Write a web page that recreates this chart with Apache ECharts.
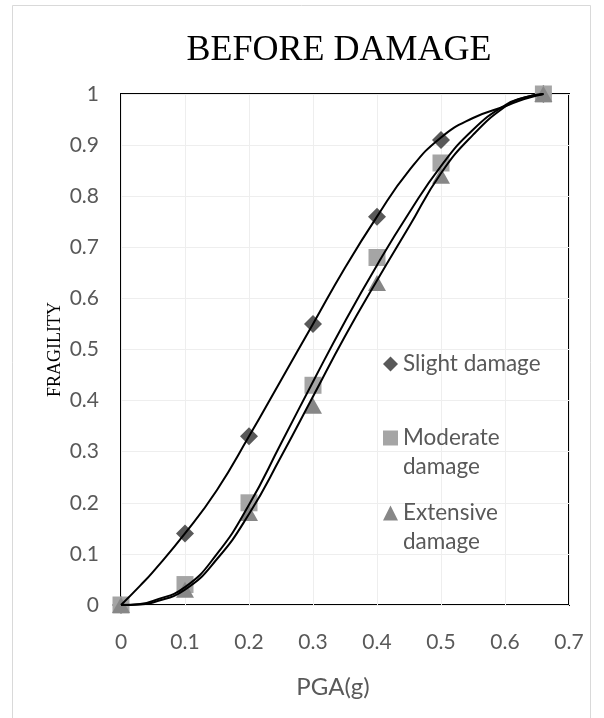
<!DOCTYPE html>
<html>
<head>
    <meta charset="UTF-8">
    <title>BEFORE DAMAGE</title>
    <script src="https://cdn.jsdelivr.net/npm/echarts@6/dist/echarts.min.js"></script>
    <style>
        body, html {
            margin: 0;
            padding: 0;
            background: #fff;
        }

        #chart {
            width: 604px;
            height: 718px;
        }
    </style>
</head>
<body>
<div id="chart"></div>
<script>
    // measured points
    var pga = [0, 0.1, 0.2, 0.3, 0.4, 0.5, 0.66];
    var slight = [0, 0.14, 0.33, 0.55, 0.76, 0.91, 1];
    var moderate = [0, 0.04, 0.2, 0.43, 0.68, 0.865, 1];
    var extensive = [0, 0.03, 0.18, 0.39, 0.63, 0.84, 1];

    // fitted curves
    var fitX = [0, 0.03, 0.05, 0.1, 0.15, 0.2, 0.25, 0.3, 0.35, 0.4, 0.45, 0.5, 0.55, 0.6, 0.63, 0.66];
    var fitSlight = [0, 0.038, 0.065, 0.14, 0.225, 0.33, 0.44, 0.55, 0.66, 0.76, 0.85, 0.915, 0.953, 0.976, 0.99, 1];
    var fitModerate = [0, 0.002, 0.008, 0.035, 0.1, 0.196, 0.316, 0.437, 0.555, 0.665, 0.767, 0.859, 0.93, 0.978, 0.993, 1];
    var fitExtensive = [0, 0.001, 0.005, 0.03, 0.09, 0.178, 0.29, 0.408, 0.526, 0.635, 0.74, 0.845, 0.92, 0.975, 0.993, 1];

    var names = ['Slight damage', 'Moderate\ndamage', 'Extensive\ndamage'];

    function pairs(xs, ys) {
        return xs.map(function (x, i) {
            return [x, ys[i]];
        });
    }

    // icon sits on the first line, so pad the text block on top by one line
    function legendAt(name, top, lines) {
        return {
            data: [name],
            left: 383,
            top: top,
            padding: 0,
            itemWidth: 15,
            itemHeight: 15,
            selectedMode: false,
            formatter: function (n) {
                return n.split('\n').map(function (s) {
                    return '{t|' + s + '}';
                }).join('\n');
            },
            textStyle: {
                padding: [29 * (lines - 1), 0, 0, 0],
                rich: {
                    t: {
                        color: '#595959',
                        fontFamily: 'Lato',
                        fontSize: 22.5,
                        lineHeight: 29
                    }
                }
            }
        };
    }

    function curve(ys) {
        return {
            type: 'line',
            data: pairs(fitX, ys),
            smooth: true,
            symbol: 'none',
            silent: true,
            lineStyle: {color: '#000', width: 2},
            z: 5
        };
    }

    var chart = echarts.init(document.getElementById('chart'), null, {renderer: 'canvas'});

    chart.setOption({
        backgroundColor: '#fff',
        animation: false,
        title: {
            text: 'BEFORE DAMAGE',
            left: 334,
            top: 28,
            textAlign: 'center',
            textStyle: {
                fontFamily: 'Liberation Serif',
                fontWeight: 'normal',
                fontSize: 36,
                color: '#000'
            }
        },
        graphic: [{
            type: 'rect',
            shape: {x: 12.5, y: 5.5, width: 578, height: 740},
            style: {fill: 'none', stroke: '#d9d9d9', lineWidth: 1},
            silent: true
        }],
        legend: [
            legendAt(names[0], 352.5, 1),
            legendAt(names[1], 426.5, 2),
            legendAt(names[2], 501.5, 2)
        ],
        grid: {
            left: 121,
            right: 35,
            top: 94,
            bottom: 113,
            show: true,
            borderColor: '#000',
            borderWidth: 2
        },
        xAxis: {
            type: 'value',
            min: 0,
            max: 0.7,
            interval: 0.1,
            name: 'PGA(g)',
            nameLocation: 'middle',
            nameGap: 70,
            nameMoveOverlap: false,
            nameTextStyle: {
                fontFamily: 'Lato',
                fontSize: 24,
                color: '#595959',
                padding: [0, 24, 0, 0]
            },
            axisLine: {show: false},
            axisTick: {show: false},
            axisLabel: {
                margin: 27,
                fontFamily: 'Lato',
                fontSize: 21,
                color: '#595959'
            },
            splitLine: {lineStyle: {color: '#eeeeee', width: 1}}
        },
        yAxis: {
            type: 'value',
            min: 0,
            max: 1,
            interval: 0.1,
            name: 'FRAGILITY',
            nameLocation: 'middle',
            nameGap: 57,
            nameMoveOverlap: false,
            nameTextStyle: {
                fontFamily: 'Liberation Serif',
                fontSize: 18,
                color: '#000'
            },
            axisLine: {show: false},
            axisTick: {show: false},
            axisLabel: {
                margin: 22,
                fontFamily: 'Lato',
                fontSize: 21,
                color: '#595959',
                formatter: function (v) {
                    return String(Math.round(v * 10) / 10);
                }
            },
            splitLine: {lineStyle: {color: '#eeeeee', width: 1}}
        },
        series: [
            {
                name: names[0],
                type: 'scatter',
                data: pairs(pga, slight),
                symbol: 'diamond',
                symbolSize: 18,
                itemStyle: {color: '#595959', opacity: 1},
                z: 3
            },
            {
                name: names[1],
                type: 'scatter',
                data: pairs(pga, moderate),
                symbol: 'rect',
                symbolSize: 17,
                itemStyle: {color: '#a5a5a5', opacity: 1},
                z: 3
            },
            {
                name: names[2],
                type: 'scatter',
                data: pairs(pga, extensive),
                symbol: 'triangle',
                symbolSize: [18, 16],
                itemStyle: {color: '#878787', opacity: 1},
                z: 3
            },
            curve(fitSlight),
            curve(fitModerate),
            curve(fitExtensive)
        ]
    });
</script>
</body>
</html>
